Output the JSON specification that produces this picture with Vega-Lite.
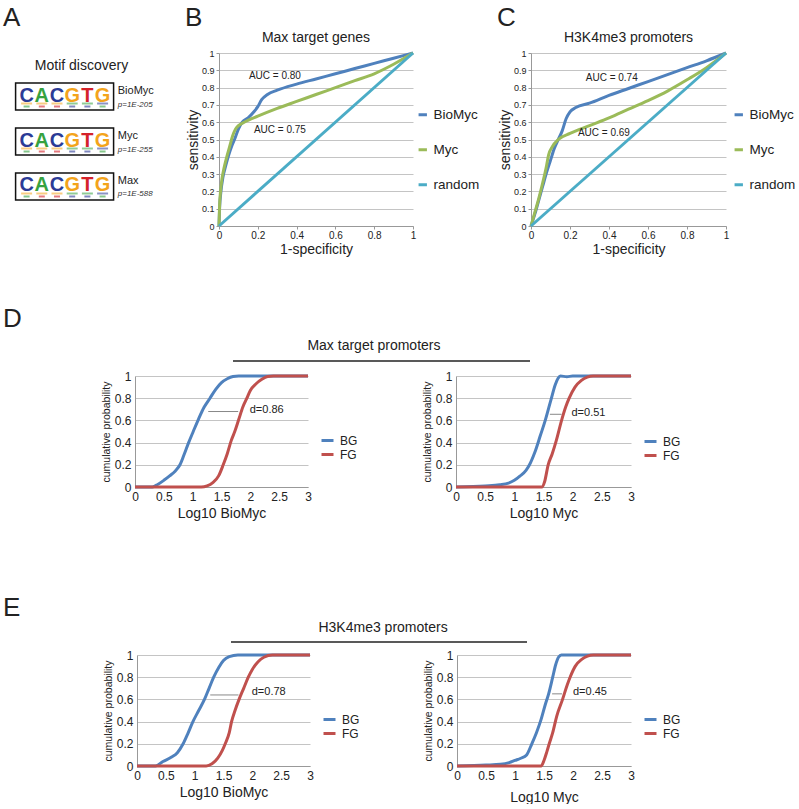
{
"$schema": "https://vega.github.io/schema/vega-lite/v6.json",
"padding": {"left": 0, "top": 4, "right": 0, "bottom": 0},
"config": {
  "font": "Liberation Sans",
  "view": {"stroke": null},
  "axis": {"labelFont": "Liberation Sans", "titleFont": "Liberation Sans", "titleFontWeight": "normal", "labelColor": "#222", "titleColor": "#222", "domainColor": "#999", "tickColor": "#999", "gridColor": "#c4c4c4", "labelFlush": false, "labelOverlap": false, "labelBound": false, "tickCount": 20},
  "legend": {"labelFont": "Liberation Sans", "labelColor": "#222"},
  "title": {"font": "Liberation Sans", "fontWeight": "normal", "color": "#222"},
  "text": {"font": "Liberation Sans", "color": "#222"}
},
"resolve": {"scale": {"color": "independent"}, "legend": {"color": "independent"}},
"bounds": "flush",
"spacing": 0,
"datasets": {
  "motifs": [
    {"row": 1, "name": "BioMyc", "pval": "p=1E-205"},
    {"row": 2, "name": "Myc", "pval": "p=1E-255"},
    {"row": 3, "name": "Max", "pval": "p=1E-588"}
  ],
  "logo": [
    {"row": 1, "pos": 1, "base": "C"}, {"row": 1, "pos": 2, "base": "A"}, {"row": 1, "pos": 3, "base": "C"}, {"row": 1, "pos": 4, "base": "G"}, {"row": 1, "pos": 5, "base": "T"}, {"row": 1, "pos": 6, "base": "G"},
    {"row": 2, "pos": 1, "base": "C"}, {"row": 2, "pos": 2, "base": "A"}, {"row": 2, "pos": 3, "base": "C"}, {"row": 2, "pos": 4, "base": "G"}, {"row": 2, "pos": 5, "base": "T"}, {"row": 2, "pos": 6, "base": "G"},
    {"row": 3, "pos": 1, "base": "C"}, {"row": 3, "pos": 2, "base": "A"}, {"row": 3, "pos": 3, "base": "C"}, {"row": 3, "pos": 4, "base": "G"}, {"row": 3, "pos": 5, "base": "T"}, {"row": 3, "pos": 6, "base": "G"}
  ],
  "smudge": [
    {"row": 1, "pos": 1, "level": 1, "base": "G"}, {"row": 1, "pos": 1, "level": 2, "base": "A"},
    {"row": 1, "pos": 2, "level": 1, "base": "G"}, {"row": 1, "pos": 2, "level": 2, "base": "T"},
    {"row": 1, "pos": 3, "level": 1, "base": "G"}, {"row": 1, "pos": 3, "level": 2, "base": "T"},
    {"row": 1, "pos": 4, "level": 1, "base": "A"}, {"row": 1, "pos": 4, "level": 2, "base": "C"},
    {"row": 1, "pos": 5, "level": 1, "base": "A"}, {"row": 1, "pos": 5, "level": 2, "base": "C"},
    {"row": 1, "pos": 6, "level": 1, "base": "C"}, {"row": 1, "pos": 6, "level": 2, "base": "A"},
    {"row": 2, "pos": 1, "level": 1, "base": "G"}, {"row": 2, "pos": 1, "level": 2, "base": "A"},
    {"row": 2, "pos": 2, "level": 1, "base": "G"}, {"row": 2, "pos": 2, "level": 2, "base": "T"},
    {"row": 2, "pos": 3, "level": 1, "base": "G"}, {"row": 2, "pos": 3, "level": 2, "base": "T"},
    {"row": 2, "pos": 4, "level": 1, "base": "A"}, {"row": 2, "pos": 4, "level": 2, "base": "C"},
    {"row": 2, "pos": 5, "level": 1, "base": "A"}, {"row": 2, "pos": 5, "level": 2, "base": "C"},
    {"row": 2, "pos": 6, "level": 1, "base": "C"}, {"row": 2, "pos": 6, "level": 2, "base": "A"},
    {"row": 3, "pos": 1, "level": 1, "base": "G"}, {"row": 3, "pos": 1, "level": 2, "base": "A"},
    {"row": 3, "pos": 2, "level": 1, "base": "G"}, {"row": 3, "pos": 2, "level": 2, "base": "T"},
    {"row": 3, "pos": 3, "level": 1, "base": "G"}, {"row": 3, "pos": 3, "level": 2, "base": "T"},
    {"row": 3, "pos": 4, "level": 1, "base": "A"}, {"row": 3, "pos": 4, "level": 2, "base": "C"},
    {"row": 3, "pos": 5, "level": 1, "base": "A"}, {"row": 3, "pos": 5, "level": 2, "base": "C"},
    {"row": 3, "pos": 6, "level": 1, "base": "C"}, {"row": 3, "pos": 6, "level": 2, "base": "A"}
  ],
  "roc": [
    {"panel": "B", "series": "BioMyc", "x": 0, "y": 0},
    {"panel": "B", "series": "BioMyc", "x": 0.003, "y": 0.1},
    {"panel": "B", "series": "BioMyc", "x": 0.01, "y": 0.2},
    {"panel": "B", "series": "BioMyc", "x": 0.02, "y": 0.28},
    {"panel": "B", "series": "BioMyc", "x": 0.035, "y": 0.35},
    {"panel": "B", "series": "BioMyc", "x": 0.05, "y": 0.41},
    {"panel": "B", "series": "BioMyc", "x": 0.065, "y": 0.46},
    {"panel": "B", "series": "BioMyc", "x": 0.08, "y": 0.5},
    {"panel": "B", "series": "BioMyc", "x": 0.1, "y": 0.56},
    {"panel": "B", "series": "BioMyc", "x": 0.12, "y": 0.6},
    {"panel": "B", "series": "BioMyc", "x": 0.15, "y": 0.625},
    {"panel": "B", "series": "BioMyc", "x": 0.18, "y": 0.66},
    {"panel": "B", "series": "BioMyc", "x": 0.2, "y": 0.69},
    {"panel": "B", "series": "BioMyc", "x": 0.22, "y": 0.73},
    {"panel": "B", "series": "BioMyc", "x": 0.25, "y": 0.76},
    {"panel": "B", "series": "BioMyc", "x": 0.3, "y": 0.785},
    {"panel": "B", "series": "BioMyc", "x": 0.4, "y": 0.82},
    {"panel": "B", "series": "BioMyc", "x": 0.5, "y": 0.85},
    {"panel": "B", "series": "BioMyc", "x": 0.6, "y": 0.88},
    {"panel": "B", "series": "BioMyc", "x": 0.7, "y": 0.91},
    {"panel": "B", "series": "BioMyc", "x": 0.8, "y": 0.94},
    {"panel": "B", "series": "BioMyc", "x": 0.9, "y": 0.97},
    {"panel": "B", "series": "BioMyc", "x": 1, "y": 1},
    {"panel": "B", "series": "Myc", "x": 0, "y": 0},
    {"panel": "B", "series": "Myc", "x": 0.003, "y": 0.12},
    {"panel": "B", "series": "Myc", "x": 0.008, "y": 0.2},
    {"panel": "B", "series": "Myc", "x": 0.015, "y": 0.27},
    {"panel": "B", "series": "Myc", "x": 0.025, "y": 0.33},
    {"panel": "B", "series": "Myc", "x": 0.04, "y": 0.4},
    {"panel": "B", "series": "Myc", "x": 0.055, "y": 0.46},
    {"panel": "B", "series": "Myc", "x": 0.07, "y": 0.52},
    {"panel": "B", "series": "Myc", "x": 0.085, "y": 0.56},
    {"panel": "B", "series": "Myc", "x": 0.1, "y": 0.58},
    {"panel": "B", "series": "Myc", "x": 0.13, "y": 0.6},
    {"panel": "B", "series": "Myc", "x": 0.2, "y": 0.635},
    {"panel": "B", "series": "Myc", "x": 0.3, "y": 0.68},
    {"panel": "B", "series": "Myc", "x": 0.4, "y": 0.72},
    {"panel": "B", "series": "Myc", "x": 0.5, "y": 0.76},
    {"panel": "B", "series": "Myc", "x": 0.6, "y": 0.8},
    {"panel": "B", "series": "Myc", "x": 0.7, "y": 0.84},
    {"panel": "B", "series": "Myc", "x": 0.8, "y": 0.88},
    {"panel": "B", "series": "Myc", "x": 0.9, "y": 0.935},
    {"panel": "B", "series": "Myc", "x": 1, "y": 1},
    {"panel": "B", "series": "random", "x": 0, "y": 0},
    {"panel": "B", "series": "random", "x": 1, "y": 1},
    {"panel": "C", "series": "BioMyc", "x": 0, "y": 0},
    {"panel": "C", "series": "BioMyc", "x": 0.02, "y": 0.07},
    {"panel": "C", "series": "BioMyc", "x": 0.04, "y": 0.15},
    {"panel": "C", "series": "BioMyc", "x": 0.06, "y": 0.23},
    {"panel": "C", "series": "BioMyc", "x": 0.08, "y": 0.31},
    {"panel": "C", "series": "BioMyc", "x": 0.1, "y": 0.38},
    {"panel": "C", "series": "BioMyc", "x": 0.12, "y": 0.45},
    {"panel": "C", "series": "BioMyc", "x": 0.14, "y": 0.5},
    {"panel": "C", "series": "BioMyc", "x": 0.16, "y": 0.55},
    {"panel": "C", "series": "BioMyc", "x": 0.18, "y": 0.62},
    {"panel": "C", "series": "BioMyc", "x": 0.2, "y": 0.66},
    {"panel": "C", "series": "BioMyc", "x": 0.23, "y": 0.685},
    {"panel": "C", "series": "BioMyc", "x": 0.3, "y": 0.71},
    {"panel": "C", "series": "BioMyc", "x": 0.4, "y": 0.755},
    {"panel": "C", "series": "BioMyc", "x": 0.5, "y": 0.795},
    {"panel": "C", "series": "BioMyc", "x": 0.6, "y": 0.835},
    {"panel": "C", "series": "BioMyc", "x": 0.7, "y": 0.875},
    {"panel": "C", "series": "BioMyc", "x": 0.8, "y": 0.915},
    {"panel": "C", "series": "BioMyc", "x": 0.9, "y": 0.955},
    {"panel": "C", "series": "BioMyc", "x": 1, "y": 1},
    {"panel": "C", "series": "Myc", "x": 0, "y": 0},
    {"panel": "C", "series": "Myc", "x": 0.02, "y": 0.08},
    {"panel": "C", "series": "Myc", "x": 0.04, "y": 0.16},
    {"panel": "C", "series": "Myc", "x": 0.06, "y": 0.25},
    {"panel": "C", "series": "Myc", "x": 0.08, "y": 0.35},
    {"panel": "C", "series": "Myc", "x": 0.09, "y": 0.41},
    {"panel": "C", "series": "Myc", "x": 0.11, "y": 0.46},
    {"panel": "C", "series": "Myc", "x": 0.14, "y": 0.5},
    {"panel": "C", "series": "Myc", "x": 0.2, "y": 0.535},
    {"panel": "C", "series": "Myc", "x": 0.3, "y": 0.58},
    {"panel": "C", "series": "Myc", "x": 0.4, "y": 0.625},
    {"panel": "C", "series": "Myc", "x": 0.5, "y": 0.675},
    {"panel": "C", "series": "Myc", "x": 0.6, "y": 0.725},
    {"panel": "C", "series": "Myc", "x": 0.7, "y": 0.78},
    {"panel": "C", "series": "Myc", "x": 0.8, "y": 0.845},
    {"panel": "C", "series": "Myc", "x": 0.9, "y": 0.915},
    {"panel": "C", "series": "Myc", "x": 1, "y": 1},
    {"panel": "C", "series": "random", "x": 0, "y": 0},
    {"panel": "C", "series": "random", "x": 1, "y": 1}
  ],
  "cdf": [
    {"panel": "DL", "series": "BG", "x": 0, "y": 0},
    {"panel": "DL", "series": "BG", "x": 0.3, "y": 0},
    {"panel": "DL", "series": "BG", "x": 0.4, "y": 0.025},
    {"panel": "DL", "series": "BG", "x": 0.5, "y": 0.06},
    {"panel": "DL", "series": "BG", "x": 0.6, "y": 0.1},
    {"panel": "DL", "series": "BG", "x": 0.7, "y": 0.145},
    {"panel": "DL", "series": "BG", "x": 0.78, "y": 0.2},
    {"panel": "DL", "series": "BG", "x": 0.85, "y": 0.29},
    {"panel": "DL", "series": "BG", "x": 0.93, "y": 0.4},
    {"panel": "DL", "series": "BG", "x": 1.01, "y": 0.5},
    {"panel": "DL", "series": "BG", "x": 1.1, "y": 0.61},
    {"panel": "DL", "series": "BG", "x": 1.2, "y": 0.72},
    {"panel": "DL", "series": "BG", "x": 1.3, "y": 0.8},
    {"panel": "DL", "series": "BG", "x": 1.4, "y": 0.88},
    {"panel": "DL", "series": "BG", "x": 1.5, "y": 0.94},
    {"panel": "DL", "series": "BG", "x": 1.6, "y": 0.975},
    {"panel": "DL", "series": "BG", "x": 1.7, "y": 0.995},
    {"panel": "DL", "series": "BG", "x": 1.8, "y": 1},
    {"panel": "DL", "series": "BG", "x": 3, "y": 1},
    {"panel": "DL", "series": "FG", "x": 0, "y": 0},
    {"panel": "DL", "series": "FG", "x": 1.15, "y": 0},
    {"panel": "DL", "series": "FG", "x": 1.25, "y": 0.01},
    {"panel": "DL", "series": "FG", "x": 1.35, "y": 0.04},
    {"panel": "DL", "series": "FG", "x": 1.45, "y": 0.1},
    {"panel": "DL", "series": "FG", "x": 1.53, "y": 0.2},
    {"panel": "DL", "series": "FG", "x": 1.6, "y": 0.3},
    {"panel": "DL", "series": "FG", "x": 1.67, "y": 0.42},
    {"panel": "DL", "series": "FG", "x": 1.73, "y": 0.5},
    {"panel": "DL", "series": "FG", "x": 1.8, "y": 0.61},
    {"panel": "DL", "series": "FG", "x": 1.87, "y": 0.72},
    {"panel": "DL", "series": "FG", "x": 1.94, "y": 0.8},
    {"panel": "DL", "series": "FG", "x": 2.0, "y": 0.87},
    {"panel": "DL", "series": "FG", "x": 2.1, "y": 0.93},
    {"panel": "DL", "series": "FG", "x": 2.2, "y": 0.97},
    {"panel": "DL", "series": "FG", "x": 2.3, "y": 0.995},
    {"panel": "DL", "series": "FG", "x": 2.4, "y": 1},
    {"panel": "DL", "series": "FG", "x": 3, "y": 1},
    {"panel": "DR", "series": "BG", "x": 0, "y": 0},
    {"panel": "DR", "series": "BG", "x": 0.5, "y": 0.01},
    {"panel": "DR", "series": "BG", "x": 0.75, "y": 0.02},
    {"panel": "DR", "series": "BG", "x": 0.9, "y": 0.035},
    {"panel": "DR", "series": "BG", "x": 1.0, "y": 0.06},
    {"panel": "DR", "series": "BG", "x": 1.1, "y": 0.1},
    {"panel": "DR", "series": "BG", "x": 1.2, "y": 0.15},
    {"panel": "DR", "series": "BG", "x": 1.26, "y": 0.2},
    {"panel": "DR", "series": "BG", "x": 1.35, "y": 0.31},
    {"panel": "DR", "series": "BG", "x": 1.45, "y": 0.47},
    {"panel": "DR", "series": "BG", "x": 1.53, "y": 0.6},
    {"panel": "DR", "series": "BG", "x": 1.63, "y": 0.79},
    {"panel": "DR", "series": "BG", "x": 1.7, "y": 0.92},
    {"panel": "DR", "series": "BG", "x": 1.75, "y": 0.98},
    {"panel": "DR", "series": "BG", "x": 1.79, "y": 1},
    {"panel": "DR", "series": "BG", "x": 1.9, "y": 0.993},
    {"panel": "DR", "series": "BG", "x": 2.0, "y": 1},
    {"panel": "DR", "series": "BG", "x": 3, "y": 1},
    {"panel": "DR", "series": "FG", "x": 0, "y": 0},
    {"panel": "DR", "series": "FG", "x": 1.47, "y": 0},
    {"panel": "DR", "series": "FG", "x": 1.52, "y": 0.05},
    {"panel": "DR", "series": "FG", "x": 1.58, "y": 0.2},
    {"panel": "DR", "series": "FG", "x": 1.65, "y": 0.3},
    {"panel": "DR", "series": "FG", "x": 1.72, "y": 0.42},
    {"panel": "DR", "series": "FG", "x": 1.81, "y": 0.6},
    {"panel": "DR", "series": "FG", "x": 1.88, "y": 0.72},
    {"panel": "DR", "series": "FG", "x": 1.94, "y": 0.8},
    {"panel": "DR", "series": "FG", "x": 2.04, "y": 0.9},
    {"panel": "DR", "series": "FG", "x": 2.15, "y": 0.96},
    {"panel": "DR", "series": "FG", "x": 2.25, "y": 0.99},
    {"panel": "DR", "series": "FG", "x": 2.35, "y": 1},
    {"panel": "DR", "series": "FG", "x": 3, "y": 1},
    {"panel": "EL", "series": "BG", "x": 0, "y": 0},
    {"panel": "EL", "series": "BG", "x": 0.32, "y": 0},
    {"panel": "EL", "series": "BG", "x": 0.45, "y": 0.04},
    {"panel": "EL", "series": "BG", "x": 0.6, "y": 0.08},
    {"panel": "EL", "series": "BG", "x": 0.7, "y": 0.12},
    {"panel": "EL", "series": "BG", "x": 0.8, "y": 0.2},
    {"panel": "EL", "series": "BG", "x": 0.88, "y": 0.29},
    {"panel": "EL", "series": "BG", "x": 0.97, "y": 0.4},
    {"panel": "EL", "series": "BG", "x": 1.07, "y": 0.5},
    {"panel": "EL", "series": "BG", "x": 1.17, "y": 0.6},
    {"panel": "EL", "series": "BG", "x": 1.25, "y": 0.7},
    {"panel": "EL", "series": "BG", "x": 1.33, "y": 0.8},
    {"panel": "EL", "series": "BG", "x": 1.42, "y": 0.89},
    {"panel": "EL", "series": "BG", "x": 1.5, "y": 0.95},
    {"panel": "EL", "series": "BG", "x": 1.6, "y": 0.985},
    {"panel": "EL", "series": "BG", "x": 1.75, "y": 1},
    {"panel": "EL", "series": "BG", "x": 3, "y": 1},
    {"panel": "EL", "series": "FG", "x": 0, "y": 0},
    {"panel": "EL", "series": "FG", "x": 1.2, "y": 0},
    {"panel": "EL", "series": "FG", "x": 1.3, "y": 0.02},
    {"panel": "EL", "series": "FG", "x": 1.4, "y": 0.07},
    {"panel": "EL", "series": "FG", "x": 1.48, "y": 0.14},
    {"panel": "EL", "series": "FG", "x": 1.53, "y": 0.2},
    {"panel": "EL", "series": "FG", "x": 1.6, "y": 0.3},
    {"panel": "EL", "series": "FG", "x": 1.64, "y": 0.4},
    {"panel": "EL", "series": "FG", "x": 1.7, "y": 0.5},
    {"panel": "EL", "series": "FG", "x": 1.77, "y": 0.6},
    {"panel": "EL", "series": "FG", "x": 1.85, "y": 0.7},
    {"panel": "EL", "series": "FG", "x": 1.93, "y": 0.8},
    {"panel": "EL", "series": "FG", "x": 2.0, "y": 0.87},
    {"panel": "EL", "series": "FG", "x": 2.1, "y": 0.94},
    {"panel": "EL", "series": "FG", "x": 2.2, "y": 0.98},
    {"panel": "EL", "series": "FG", "x": 2.35, "y": 1},
    {"panel": "EL", "series": "FG", "x": 3, "y": 1},
    {"panel": "ER", "series": "BG", "x": 0, "y": 0},
    {"panel": "ER", "series": "BG", "x": 0.5, "y": 0.008},
    {"panel": "ER", "series": "BG", "x": 0.75, "y": 0.015},
    {"panel": "ER", "series": "BG", "x": 0.9, "y": 0.03},
    {"panel": "ER", "series": "BG", "x": 1.0, "y": 0.05},
    {"panel": "ER", "series": "BG", "x": 1.1, "y": 0.07},
    {"panel": "ER", "series": "BG", "x": 1.2, "y": 0.1},
    {"panel": "ER", "series": "BG", "x": 1.29, "y": 0.2},
    {"panel": "ER", "series": "BG", "x": 1.37, "y": 0.3},
    {"panel": "ER", "series": "BG", "x": 1.45, "y": 0.42},
    {"panel": "ER", "series": "BG", "x": 1.52, "y": 0.55},
    {"panel": "ER", "series": "BG", "x": 1.58, "y": 0.65},
    {"panel": "ER", "series": "BG", "x": 1.65, "y": 0.8},
    {"panel": "ER", "series": "BG", "x": 1.7, "y": 0.91},
    {"panel": "ER", "series": "BG", "x": 1.75, "y": 0.98},
    {"panel": "ER", "series": "BG", "x": 1.8, "y": 1},
    {"panel": "ER", "series": "BG", "x": 3, "y": 1},
    {"panel": "ER", "series": "FG", "x": 0, "y": 0},
    {"panel": "ER", "series": "FG", "x": 1.45, "y": 0},
    {"panel": "ER", "series": "FG", "x": 1.5, "y": 0.05},
    {"panel": "ER", "series": "FG", "x": 1.55, "y": 0.13},
    {"panel": "ER", "series": "FG", "x": 1.59, "y": 0.2},
    {"panel": "ER", "series": "FG", "x": 1.65, "y": 0.3},
    {"panel": "ER", "series": "FG", "x": 1.72, "y": 0.45},
    {"panel": "ER", "series": "FG", "x": 1.82, "y": 0.6},
    {"panel": "ER", "series": "FG", "x": 1.9, "y": 0.73},
    {"panel": "ER", "series": "FG", "x": 1.95, "y": 0.8},
    {"panel": "ER", "series": "FG", "x": 2.04, "y": 0.9},
    {"panel": "ER", "series": "FG", "x": 2.15, "y": 0.96},
    {"panel": "ER", "series": "FG", "x": 2.25, "y": 0.99},
    {"panel": "ER", "series": "FG", "x": 2.35, "y": 1},
    {"panel": "ER", "series": "FG", "x": 3, "y": 1}
  ]
},
"vconcat": [
{
"hconcat": [
  {
    "width": 219, "height": 173,
    "layer": [
      {
        "data": {"name": "motifs"},
        "mark": {"type": "point", "shape": "M-1,-0.276L1,-0.276L1,0.276L-1,0.276Z", "size": 9604, "filled": false, "stroke": "#111", "strokeWidth": 1.5, "opacity": 1},
        "encoding": {
          "x": {"datum": 3.5, "type": "quantitative", "scale": {"domain": [-0.75, 13.66], "nice": false, "zero": false}, "axis": null},
          "y": {"field": "row", "type": "quantitative", "scale": {"domain": [0.033, 3.878], "nice": false, "zero": false, "reverse": true}, "axis": null}
        }
      },
      {
        "data": {"name": "logo"},
        "mark": {"type": "text", "fontSize": 20, "fontWeight": "bold", "align": "center", "baseline": "middle", "dy": -1},
        "encoding": {
          "x": {"field": "pos", "type": "quantitative", "scale": {"domain": [-0.75, 13.66], "nice": false, "zero": false}, "axis": null},
          "y": {"field": "row", "type": "quantitative", "scale": {"domain": [0.033, 3.878], "nice": false, "zero": false, "reverse": true}, "axis": null},
          "text": {"field": "base"},
          "color": {"field": "base", "type": "nominal", "scale": {"domain": ["A", "C", "G", "T"], "range": ["#36a23f", "#2b3b96", "#f3a41c", "#d4222a"]}, "legend": null}
        }
      },
      {
        "data": {"name": "smudge"},
        "transform": [{"filter": "datum.level == 1"}],
        "mark": {"type": "tick", "orient": "horizontal", "size": 11, "thickness": 2, "yOffset": 7, "opacity": 0.55},
        "encoding": {
          "x": {"field": "pos", "type": "quantitative", "scale": {"domain": [-0.75, 13.66], "nice": false, "zero": false}, "axis": null},
          "y": {"field": "row", "type": "quantitative", "scale": {"domain": [0.033, 3.878], "nice": false, "zero": false, "reverse": true}, "axis": null},
          "color": {"field": "base", "type": "nominal", "legend": null}
        }
      },
      {
        "data": {"name": "smudge"},
        "transform": [{"filter": "datum.level == 2"}],
        "mark": {"type": "tick", "orient": "horizontal", "size": 6, "thickness": 2, "yOffset": 10, "opacity": 0.6},
        "encoding": {
          "x": {"field": "pos", "type": "quantitative", "scale": {"domain": [-0.75, 13.66], "nice": false, "zero": false}, "axis": null},
          "y": {"field": "row", "type": "quantitative", "scale": {"domain": [0.033, 3.878], "nice": false, "zero": false, "reverse": true}, "axis": null},
          "color": {"field": "base", "type": "nominal", "legend": null}
        }
      },
      {
        "data": {"name": "motifs"},
        "mark": {"type": "text", "align": "left", "baseline": "middle", "fontSize": 11, "dy": -5.5},
        "encoding": {
          "x": {"datum": 7.0, "type": "quantitative", "scale": {"domain": [-0.75, 13.66], "nice": false, "zero": false}, "axis": null},
          "y": {"field": "row", "type": "quantitative", "scale": {"domain": [0.033, 3.878], "nice": false, "zero": false, "reverse": true}, "axis": null},
          "text": {"field": "name"}
        }
      },
      {
        "data": {"name": "motifs"},
        "mark": {"type": "text", "align": "left", "baseline": "middle", "fontSize": 8, "fontStyle": "italic", "dy": 8, "color": "#333"},
        "encoding": {
          "x": {"datum": 7.0, "type": "quantitative", "scale": {"domain": [-0.75, 13.66], "nice": false, "zero": false}, "axis": null},
          "y": {"field": "row", "type": "quantitative", "scale": {"domain": [0.033, 3.878], "nice": false, "zero": false, "reverse": true}, "axis": null},
          "text": {"field": "pval"}
        }
      },
      {
        "data": {"values": [{}]},
        "mark": {"type": "text", "text": "Motif discovery", "align": "center", "baseline": "middle", "fontSize": 14},
        "encoding": {
          "x": {"datum": 4.61, "type": "quantitative", "scale": {"domain": [-0.75, 13.66], "nice": false, "zero": false}, "axis": null},
          "y": {"datum": 0.315, "type": "quantitative", "scale": {"domain": [0.033, 3.878], "nice": false, "zero": false, "reverse": true}, "axis": null}
        }
      },
      {
        "data": {"values": [{}]},
        "mark": {"type": "text", "text": "A", "align": "left", "baseline": "middle", "fontSize": 26},
        "encoding": {
          "x": {"datum": -0.553, "type": "quantitative", "scale": {"domain": [-0.75, 13.66], "nice": false, "zero": false}, "axis": null},
          "y": {"datum": -0.756, "type": "quantitative", "scale": {"domain": [0.033, 3.878], "nice": false, "zero": false, "reverse": true}, "axis": null}
        }
      },
      {
        "data": {"values": [{}]},
        "mark": {"type": "text", "text": "B", "align": "left", "baseline": "middle", "fontSize": 26},
        "encoding": {
          "x": {"datum": 11.42, "type": "quantitative", "scale": {"domain": [-0.75, 13.66], "nice": false, "zero": false}, "axis": null},
          "y": {"datum": -0.756, "type": "quantitative", "scale": {"domain": [0.033, 3.878], "nice": false, "zero": false, "reverse": true}, "axis": null}
        }
      }
    ]
  },
  {
    "width": 194, "height": 173,
    "title": {"text": "Max target genes", "fontSize": 14, "offset": 2},
    "layer": [
      {
        "data": {"name": "roc"},
        "transform": [{"filter": "datum.panel == 'B'"}],
        "mark": {"type": "line", "strokeWidth": 3, "interpolate": "monotone"},
        "encoding": {
          "x": {"field": "x", "type": "quantitative", "scale": {"domain": [0, 1], "nice": false}, "axis": {"title": "1-specificity", "values": [0, 0.2, 0.4, 0.6, 0.8, 1], "tickCount": 20, "format": "~g", "grid": false, "labelOverlap": false, "labelFontSize": 10, "labelPadding": 1, "tickSize": 3, "titleFontSize": 14, "titlePadding": 2}},
          "y": {"field": "y", "type": "quantitative", "scale": {"domain": [0, 1], "nice": false}, "axis": {"title": "sensitivity", "values": [0, 0.1, 0.2, 0.3, 0.4, 0.5, 0.6, 0.7, 0.8, 0.9, 1], "tickCount": 20, "format": "~g", "grid": true, "labelOverlap": false, "labelFontSize": 9, "labelPadding": 2, "tickSize": 3, "titleFontSize": 14, "titlePadding": 1}},
          "color": {"field": "series", "type": "nominal", "scale": {"domain": ["BioMyc", "Myc", "random"], "range": ["#4F81BD", "#9BBB59", "#4BACC6"]}, "legend": {"orient": "none", "legendX": 197, "legendY": 55, "title": null, "symbolType": "stroke", "symbolStrokeWidth": 3, "symbolSize": 70, "labelFontSize": 13.5, "rowPadding": 20, "labelOffset": 4, "padding": 0}}
        }
      },
      {
        "data": {"values": [{}]},
        "mark": {"type": "text", "text": "AUC = 0.80", "fontSize": 10, "align": "center", "baseline": "middle"},
        "encoding": {"x": {"datum": 0.288, "type": "quantitative"}, "y": {"datum": 0.865, "type": "quantitative"}}
      },
      {
        "data": {"values": [{}]},
        "mark": {"type": "text", "text": "AUC = 0.75", "fontSize": 10, "align": "center", "baseline": "middle"},
        "encoding": {"x": {"datum": 0.314, "type": "quantitative"}, "y": {"datum": 0.556, "type": "quantitative"}}
      }
    ]
  },
  {
    "width": 118, "height": 173,
    "data": {"values": [{}]},
    "mark": {"type": "text", "text": "C", "align": "left", "baseline": "middle", "fontSize": 26},
    "encoding": {
      "x": {"datum": 0.712, "type": "quantitative", "scale": {"domain": [0, 1], "nice": false}, "axis": null},
      "y": {"datum": -0.205, "type": "quantitative", "scale": {"domain": [0, 1], "nice": false, "reverse": true}, "axis": null}
    }
  },
  {
    "width": 195, "height": 173,
    "title": {"text": "H3K4me3 promoters", "fontSize": 14, "offset": 2},
    "layer": [
      {
        "data": {"name": "roc"},
        "transform": [{"filter": "datum.panel == 'C'"}],
        "mark": {"type": "line", "strokeWidth": 3, "interpolate": "monotone"},
        "encoding": {
          "x": {"field": "x", "type": "quantitative", "scale": {"domain": [0, 1], "nice": false}, "axis": {"title": "1-specificity", "values": [0, 0.2, 0.4, 0.6, 0.8, 1], "tickCount": 20, "format": "~g", "grid": false, "labelOverlap": false, "labelFontSize": 10, "labelPadding": 1, "tickSize": 3, "titleFontSize": 14, "titlePadding": 2}},
          "y": {"field": "y", "type": "quantitative", "scale": {"domain": [0, 1], "nice": false}, "axis": {"title": "sensitivity", "values": [0, 0.1, 0.2, 0.3, 0.4, 0.5, 0.6, 0.7, 0.8, 0.9, 1], "tickCount": 20, "format": "~g", "grid": true, "labelOverlap": false, "labelFontSize": 9, "labelPadding": 2, "tickSize": 3, "titleFontSize": 14, "titlePadding": 1}},
          "color": {"field": "series", "type": "nominal", "scale": {"domain": ["BioMyc", "Myc", "random"], "range": ["#4F81BD", "#9BBB59", "#4BACC6"]}, "legend": {"orient": "none", "legendX": 201, "legendY": 55, "title": null, "symbolType": "stroke", "symbolStrokeWidth": 3, "symbolSize": 70, "labelFontSize": 13.5, "rowPadding": 20, "labelOffset": 4, "padding": 0}}
        }
      },
      {
        "data": {"values": [{}]},
        "mark": {"type": "text", "text": "AUC = 0.74", "fontSize": 10, "align": "center", "baseline": "middle"},
        "encoding": {"x": {"datum": 0.414, "type": "quantitative"}, "y": {"datum": 0.855, "type": "quantitative"}}
      },
      {
        "data": {"values": [{}]},
        "mark": {"type": "text", "text": "AUC = 0.69", "fontSize": 10, "align": "center", "baseline": "middle"},
        "encoding": {"x": {"datum": 0.374, "type": "quantitative"}, "y": {"datum": 0.537, "type": "quantitative"}}
      }
    ]
  }
],
"bounds": "flush",
"spacing": 0,
"resolve": {"scale": {"color": "independent"}, "legend": {"color": "independent"}}
},
{
  "width": 1, "height": 323,
  "data": {"values": []},
  "mark": "text"
},
{
"hconcat": [
  {
    "width": 135, "height": 129,
    "data": {"values": [{}]},
    "layer": [
      {
        "mark": {"type": "text", "text": "D", "align": "left", "baseline": "middle", "fontSize": 26},
        "encoding": {
          "x": {"datum": 0.022, "type": "quantitative", "scale": {"domain": [0, 1], "nice": false}, "axis": null},
          "y": {"datum": -0.438, "type": "quantitative", "scale": {"domain": [0, 1], "nice": false, "reverse": true}, "axis": null}
        }
      },
      {
        "mark": {"type": "text", "text": "Max target promoters", "align": "center", "baseline": "middle", "fontSize": 14},
        "encoding": {
          "x": {"datum": 2.77, "type": "quantitative", "scale": {"domain": [0, 1], "nice": false}, "axis": null},
          "y": {"datum": -0.235, "type": "quantitative", "scale": {"domain": [0, 1], "nice": false, "reverse": true}, "axis": null}
        }
      },
      {
        "mark": {"type": "rule", "color": "#222", "strokeWidth": 1.5},
        "encoding": {
          "x": {"datum": 1.726, "type": "quantitative", "scale": {"domain": [0, 1], "nice": false}, "axis": null},
          "x2": {"datum": 3.926},
          "y": {"datum": -0.116, "type": "quantitative", "scale": {"domain": [0, 1], "nice": false, "reverse": true}, "axis": null}
        }
      }
    ]
  },
  {
    "width": 173, "height": 111,
    "layer": [
      {
        "data": {"name": "cdf"},
        "transform": [{"filter": "datum.panel == 'DL'"}],
        "mark": {"type": "line", "strokeWidth": 3, "interpolate": "monotone"},
        "encoding": {
          "x": {"field": "x", "type": "quantitative", "scale": {"domain": [0, 3], "nice": false}, "axis": {"title": "Log10 BioMyc", "values": [0, 0.5, 1, 1.5, 2, 2.5, 3], "tickCount": 20, "format": "~g", "grid": false, "labelOverlap": false, "ticks": false, "labelPadding": 4, "labelFontSize": 12, "titleFontSize": 14, "titlePadding": 4}},
          "y": {"field": "y", "type": "quantitative", "scale": {"domain": [0, 1], "nice": false}, "axis": {"title": "cumulative probability", "values": [0, 0.2, 0.4, 0.6, 0.8, 1], "tickCount": 20, "format": "~g", "grid": true, "labelOverlap": false, "ticks": false, "labelPadding": 4, "labelFontSize": 12, "titleFontSize": 10.5, "titlePadding": 3}},
          "color": {"field": "series", "type": "nominal", "scale": {"domain": ["BG", "FG"], "range": ["#4F81BD", "#C0504D"]}, "legend": {"orient": "none", "legendX": 185, "legendY": 57, "title": null, "symbolType": "stroke", "symbolStrokeWidth": 3, "symbolSize": 144, "labelFontSize": 12, "rowPadding": 0, "labelOffset": 5, "padding": 0}}
        }
      },
      {
        "data": {"values": [{}]},
        "mark": {"type": "rule", "color": "#888", "strokeWidth": 1},
        "encoding": {"x": {"datum": 1.27, "type": "quantitative"}, "x2": {"datum": 1.79}, "y": {"datum": 0.68, "type": "quantitative"}}
      },
      {
        "data": {"values": [{}]},
        "mark": {"type": "text", "text": "d=0.86", "fontSize": 11, "align": "left", "baseline": "middle"},
        "encoding": {"x": {"datum": 1.99, "type": "quantitative"}, "y": {"datum": 0.69, "type": "quantitative"}}
      }
    ]
  },
  {
    "width": 148, "height": 10,
    "data": {"values": []},
    "mark": "text"
  },
  {
    "width": 175, "height": 111,
    "layer": [
      {
        "data": {"name": "cdf"},
        "transform": [{"filter": "datum.panel == 'DR'"}],
        "mark": {"type": "line", "strokeWidth": 3, "interpolate": "monotone"},
        "encoding": {
          "x": {"field": "x", "type": "quantitative", "scale": {"domain": [0, 3], "nice": false}, "axis": {"title": "Log10 Myc", "values": [0, 0.5, 1, 1.5, 2, 2.5, 3], "tickCount": 20, "format": "~g", "grid": false, "labelOverlap": false, "ticks": false, "labelPadding": 4, "labelFontSize": 12, "titleFontSize": 14, "titlePadding": 4}},
          "y": {"field": "y", "type": "quantitative", "scale": {"domain": [0, 1], "nice": false}, "axis": {"title": "cumulative probability", "values": [0, 0.2, 0.4, 0.6, 0.8, 1], "tickCount": 20, "format": "~g", "grid": true, "labelOverlap": false, "ticks": false, "labelPadding": 4, "labelFontSize": 12, "titleFontSize": 10.5, "titlePadding": 3}},
          "color": {"field": "series", "type": "nominal", "scale": {"domain": ["BG", "FG"], "range": ["#4F81BD", "#C0504D"]}, "legend": {"orient": "none", "legendX": 187, "legendY": 58, "title": null, "symbolType": "stroke", "symbolStrokeWidth": 3, "symbolSize": 144, "labelFontSize": 12, "rowPadding": 0, "labelOffset": 5, "padding": 0}}
        }
      },
      {
        "data": {"values": [{}]},
        "mark": {"type": "rule", "color": "#888", "strokeWidth": 1},
        "encoding": {"x": {"datum": 1.61, "type": "quantitative"}, "x2": {"datum": 1.81}, "y": {"datum": 0.655, "type": "quantitative"}}
      },
      {
        "data": {"values": [{}]},
        "mark": {"type": "text", "text": "d=0.51", "fontSize": 11, "align": "left", "baseline": "middle"},
        "encoding": {"x": {"datum": 1.98, "type": "quantitative"}, "y": {"datum": 0.67, "type": "quantitative"}}
      }
    ]
  }
],
"bounds": "flush",
"spacing": 0,
"resolve": {"scale": {"color": "independent"}, "legend": {"color": "independent"}}
},
{
  "width": 1, "height": 279,
  "data": {"values": []},
  "mark": "text"
},
{
"hconcat": [
  {
    "width": 137, "height": 111,
    "data": {"values": [{}]},
    "layer": [
      {
        "mark": {"type": "text", "text": "E", "align": "left", "baseline": "middle", "fontSize": 26},
        "encoding": {
          "x": {"datum": 0.022, "type": "quantitative", "scale": {"domain": [0, 1], "nice": false}, "axis": null},
          "y": {"datum": -0.419, "type": "quantitative", "scale": {"domain": [0, 1], "nice": false, "reverse": true}, "axis": null}
        }
      },
      {
        "mark": {"type": "text", "text": "H3K4me3 promoters", "align": "center", "baseline": "middle", "fontSize": 14},
        "encoding": {
          "x": {"datum": 2.796, "type": "quantitative", "scale": {"domain": [0, 1], "nice": false}, "axis": null},
          "y": {"datum": -0.246, "type": "quantitative", "scale": {"domain": [0, 1], "nice": false, "reverse": true}, "axis": null}
        }
      },
      {
        "mark": {"type": "rule", "color": "#222", "strokeWidth": 1.5},
        "encoding": {
          "x": {"datum": 1.686, "type": "quantitative", "scale": {"domain": [0, 1], "nice": false}, "axis": null},
          "x2": {"datum": 3.847},
          "y": {"datum": -0.117, "type": "quantitative", "scale": {"domain": [0, 1], "nice": false, "reverse": true}, "axis": null}
        }
      }
    ]
  },
  {
    "width": 173, "height": 111,
    "layer": [
      {
        "data": {"name": "cdf"},
        "transform": [{"filter": "datum.panel == 'EL'"}],
        "mark": {"type": "line", "strokeWidth": 3, "interpolate": "monotone"},
        "encoding": {
          "x": {"field": "x", "type": "quantitative", "scale": {"domain": [0, 3], "nice": false}, "axis": {"title": "Log10 BioMyc", "values": [0, 0.5, 1, 1.5, 2, 2.5, 3], "tickCount": 20, "format": "~g", "grid": false, "labelOverlap": false, "ticks": false, "labelPadding": 4, "labelFontSize": 12, "titleFontSize": 14, "titlePadding": 4}},
          "y": {"field": "y", "type": "quantitative", "scale": {"domain": [0, 1], "nice": false}, "axis": {"title": "cumulative probability", "values": [0, 0.2, 0.4, 0.6, 0.8, 1], "tickCount": 20, "format": "~g", "grid": true, "labelOverlap": false, "ticks": false, "labelPadding": 4, "labelFontSize": 12, "titleFontSize": 10.5, "titlePadding": 3}},
          "color": {"field": "series", "type": "nominal", "scale": {"domain": ["BG", "FG"], "range": ["#4F81BD", "#C0504D"]}, "legend": {"orient": "none", "legendX": 185, "legendY": 57, "title": null, "symbolType": "stroke", "symbolStrokeWidth": 3, "symbolSize": 144, "labelFontSize": 12, "rowPadding": 0, "labelOffset": 5, "padding": 0}}
        }
      },
      {
        "data": {"values": [{}]},
        "mark": {"type": "rule", "color": "#888", "strokeWidth": 1},
        "encoding": {"x": {"datum": 1.27, "type": "quantitative"}, "x2": {"datum": 1.76}, "y": {"datum": 0.64, "type": "quantitative"}}
      },
      {
        "data": {"values": [{}]},
        "mark": {"type": "text", "text": "d=0.78", "fontSize": 11, "align": "left", "baseline": "middle"},
        "encoding": {"x": {"datum": 1.99, "type": "quantitative"}, "y": {"datum": 0.67, "type": "quantitative"}}
      }
    ]
  },
  {
    "width": 147, "height": 10,
    "data": {"values": []},
    "mark": "text"
  },
  {
    "width": 174, "height": 111,
    "layer": [
      {
        "data": {"name": "cdf"},
        "transform": [{"filter": "datum.panel == 'ER'"}],
        "mark": {"type": "line", "strokeWidth": 3, "interpolate": "monotone"},
        "encoding": {
          "x": {"field": "x", "type": "quantitative", "scale": {"domain": [0, 3], "nice": false}, "axis": {"title": "Log10 Myc", "values": [0, 0.5, 1, 1.5, 2, 2.5, 3], "tickCount": 20, "format": "~g", "grid": false, "labelOverlap": false, "ticks": false, "labelPadding": 4, "labelFontSize": 12, "titleFontSize": 14, "titlePadding": 9}},
          "y": {"field": "y", "type": "quantitative", "scale": {"domain": [0, 1], "nice": false}, "axis": {"title": "cumulative probability", "values": [0, 0.2, 0.4, 0.6, 0.8, 1], "tickCount": 20, "format": "~g", "grid": true, "labelOverlap": false, "ticks": false, "labelPadding": 4, "labelFontSize": 12, "titleFontSize": 10.5, "titlePadding": 3}},
          "color": {"field": "series", "type": "nominal", "scale": {"domain": ["BG", "FG"], "range": ["#4F81BD", "#C0504D"]}, "legend": {"orient": "none", "legendX": 186, "legendY": 57, "title": null, "symbolType": "stroke", "symbolStrokeWidth": 3, "symbolSize": 144, "labelFontSize": 12, "rowPadding": 0, "labelOffset": 5, "padding": 0}}
        }
      },
      {
        "data": {"values": [{}]},
        "mark": {"type": "rule", "color": "#888", "strokeWidth": 1},
        "encoding": {"x": {"datum": 1.64, "type": "quantitative"}, "x2": {"datum": 1.81}, "y": {"datum": 0.65, "type": "quantitative"}}
      },
      {
        "data": {"values": [{}]},
        "mark": {"type": "text", "text": "d=0.45", "fontSize": 11, "align": "left", "baseline": "middle"},
        "encoding": {"x": {"datum": 2.0, "type": "quantitative"}, "y": {"datum": 0.67, "type": "quantitative"}}
      }
    ]
  }
],
"bounds": "flush",
"spacing": 0,
"resolve": {"scale": {"color": "independent"}, "legend": {"color": "independent"}}
}
]
}
